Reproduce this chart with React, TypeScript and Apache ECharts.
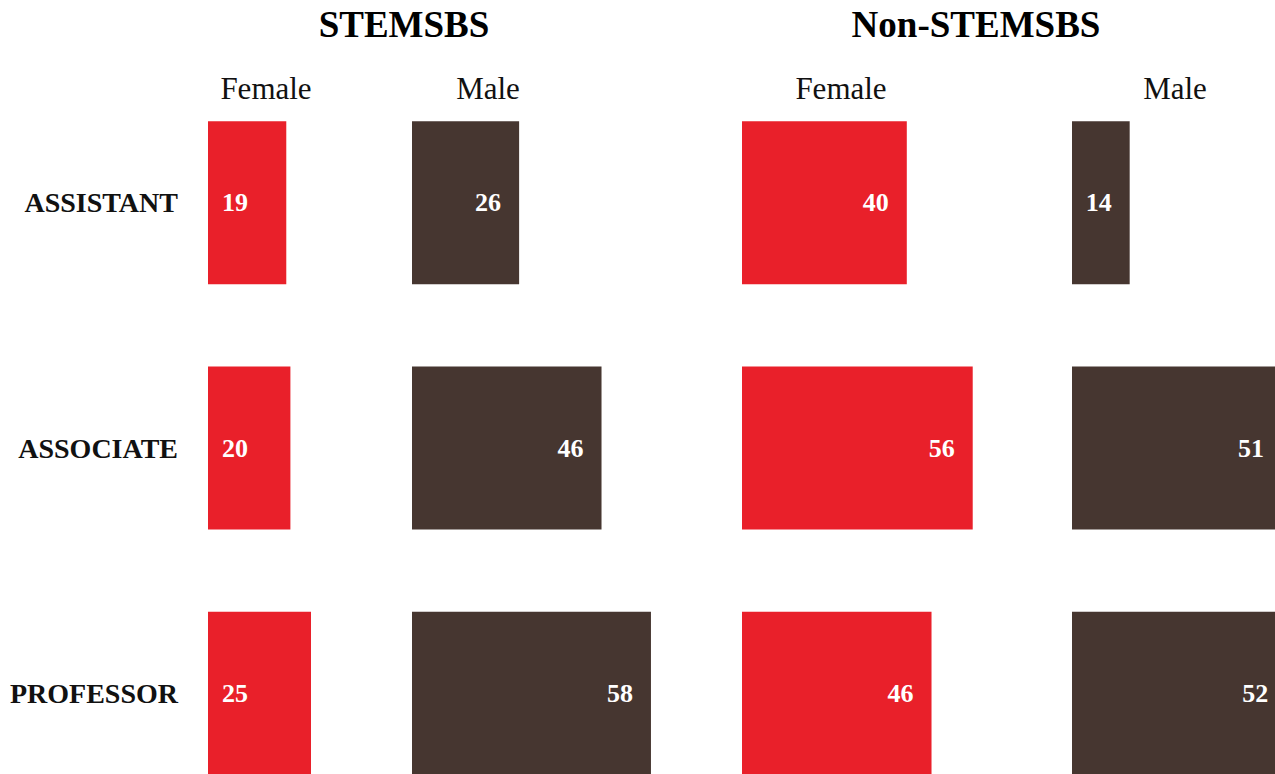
import React, { useEffect, useRef } from "react";
import * as echarts from "echarts";

// Faculty counts by rank, split by field group and gender
const ranks = ["ASSISTANT", "ASSOCIATE", "PROFESSOR"];
const stemFemale = [19, 20, 25];
const stemMale = [26, 46, 58];
const nonStemFemale = [40, 56, 46];
const nonStemMale = [14, 51, 52];

const groupTitles = ["STEMSBS", "Non-STEMSBS"];
const genderTitles = ["Female", "Male"];

const RED = "#E9202A";
const BROWN = "#463630";
const SERIF = "'Liberation Serif', 'Times New Roman', serif";

const PX_PER_UNIT = 4.12;
const AXIS_MAX = 70;

// The chart canvas runs past the visible frame on the right and bottom,
// so the last panel and the bottom row are cropped by the wrapper.
const FRAME_W = 1275;
const FRAME_H = 774;
const CANVAS_W = 1400;
const CANVAS_H = 840;

const panels = [
  { left: 208, data: stemFemale, color: RED, labelPos: "insideLeft", dist: 14 },
  { left: 412, data: stemMale, color: BROWN, labelPos: "insideRight", dist: 18 },
  { left: 742, data: nonStemFemale, color: RED, labelPos: "insideRight", dist: 18 },
  { left: 1072, data: nonStemMale, color: BROWN, labelPos: "insideRight", dist: 18 },
];

export default function App() {
  const ref = useRef<HTMLDivElement>(null);

  useEffect(() => {
    if (!ref.current) return;
    const chart = echarts.init(ref.current, null, { renderer: "svg" });

    const gridTop = 80;
    const gridHeight = 736;

    const option: any = {
      animation: false,
      backgroundColor: "#ffffff",
      grid: panels.map((p) => ({
        left: p.left,
        top: gridTop,
        width: AXIS_MAX * PX_PER_UNIT,
        height: gridHeight,
        containLabel: false,
      })),
      xAxis: panels.map((_, i) => ({
        type: "value",
        gridIndex: i,
        min: 0,
        max: AXIS_MAX,
        show: false,
      })),
      yAxis: panels.map((_, i) => ({
        type: "category",
        gridIndex: i,
        data: ranks,
        inverse: true,
        axisLine: { show: false },
        axisTick: { show: false },
        splitLine: { show: false },
        axisLabel: {
          show: i === 0,
          margin: 30,
          fontFamily: SERIF,
          fontWeight: "bold",
          fontSize: 28,
          color: "#111111",
        },
      })),
      series: panels.map((p, i) => ({
        type: "bar",
        xAxisIndex: i,
        yAxisIndex: i,
        data: p.data,
        barWidth: 163,
        itemStyle: { color: p.color },
        label: {
          show: true,
          position: p.labelPos,
          distance: p.dist,
          color: "#ffffff",
          fontFamily: SERIF,
          fontWeight: "bold",
          fontSize: 26,
        },
      })),
      graphic: [
        {
          type: "text",
          x: 404,
          y: 24,
          style: {
            text: groupTitles[0],
            fontFamily: SERIF,
            fontWeight: "bold",
            fontSize: 37,
            fill: "#000000",
            textAlign: "center",
            textVerticalAlign: "middle",
          },
        },
        {
          type: "text",
          x: 976,
          y: 24,
          style: {
            text: groupTitles[1],
            fontFamily: SERIF,
            fontWeight: "bold",
            fontSize: 37,
            fill: "#000000",
            textAlign: "center",
            textVerticalAlign: "middle",
          },
        },
        ...[266, 488, 841, 1175].map((x, i) => ({
          type: "text",
          x,
          y: 88,
          style: {
            text: genderTitles[i % 2],
            fontFamily: SERIF,
            fontSize: 31,
            fill: "#111111",
            textAlign: "center",
            textVerticalAlign: "middle",
          },
        })),
      ],
    };

    chart.setOption(option);
    return () => chart.dispose();
  }, []);

  return (
    <div
      style={{
        position: "absolute",
        left: 0,
        top: 0,
        width: FRAME_W,
        height: FRAME_H,
        overflow: "hidden",
        background: "#ffffff",
      }}
    >
      <div ref={ref} style={{ width: CANVAS_W, height: CANVAS_H }} />
    </div>
  );
}
